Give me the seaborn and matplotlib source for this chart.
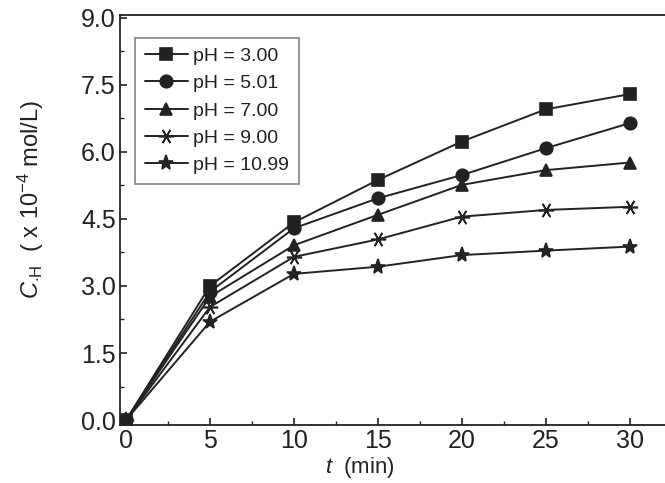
import pandas as pd
import seaborn as sns
import matplotlib.pyplot as plt
from matplotlib.ticker import MultipleLocator

# data
t_min = [0, 5, 10, 15, 20, 25, 30]
ph_labels = ['pH = 3.00', 'pH = 5.01', 'pH = 7.00', 'pH = 9.00', 'pH = 10.99']
c_ph300 = [0.0, 3.00, 4.42, 5.37, 6.23, 6.95, 7.29]
c_ph501 = [0.0, 2.87, 4.29, 4.96, 5.48, 6.08, 6.64]
c_ph700 = [0.0, 2.76, 3.91, 4.59, 5.26, 5.59, 5.76]
c_ph900 = [0.0, 2.53, 3.65, 4.04, 4.55, 4.70, 4.77]
c_ph1099 = [0.0, 2.20, 3.27, 3.43, 3.69, 3.79, 3.88]
y_ticks = [0.0, 1.5, 3.0, 4.5, 6.0, 7.5, 9.0]
x_ticks = [0, 5, 10, 15, 20, 25, 30]

series = [c_ph300, c_ph501, c_ph700, c_ph900, c_ph1099]
rows = []
for lab, vals in zip(ph_labels, series):
    for t, v in zip(t_min, vals):
        rows.append({'t': t, 'C': v, 'pH': lab})
df = pd.DataFrame(rows)

sns.set_style('ticks')
plt.rcParams['font.family'] = ['Liberation Sans', 'DejaVu Sans']
plt.rcParams['mathtext.fontset'] = 'custom'
plt.rcParams['mathtext.rm'] = 'Liberation Sans'
plt.rcParams['mathtext.it'] = 'Liberation Sans:italic'

ink = '#222222'
fig = plt.figure(figsize=(6.65, 4.83), dpi=100)
ax = fig.add_axes([120 / 665, 1 - 425 / 483, 560 / 665, 410 / 483])

markers = ['s', 'o', '^', (6, 2, 90), '*']
sizes = [8, 9, 9, 11, 11]

# one call per series so filled and line-art markers can be mixed
for lab, mk, ms in zip(ph_labels, markers, sizes):
    sns.lineplot(data=df[df['pH'] == lab], x='t', y='C', color=ink,
                 marker=mk, markersize=ms, markeredgewidth=1.2,
                 markeredgecolor=ink, linewidth=1.4, label=lab, ax=ax)

ax.set_xlim(-0.36, 33)
ax.set_ylim(-0.11, 9.06)
ax.set_xticks(x_ticks)
ax.set_yticks(y_ticks)
ax.set_yticklabels([f'{v:.1f}' for v in y_ticks])
ax.xaxis.set_minor_locator(MultipleLocator(2.5))
ax.yaxis.set_minor_locator(MultipleLocator(0.75))
ax.tick_params(which='both', direction='in', color=ink, labelcolor=ink,
               labelsize=18, pad=3)
ax.tick_params(which='major', length=5, width=1.2)
ax.tick_params(which='minor', length=3, width=1.0)
for sp in ax.spines.values():
    sp.set_color(ink)
    sp.set_linewidth(1.3)

ax.set_xlabel(r'$t$  (min)', fontsize=16, color=ink)
ax.xaxis.set_label_coords((360 - 120) / 560, -0.072)
ax.set_ylabel(r'$C_{\cdot\mathrm{H}}$  ( x 10$^{-4}$ mol/L)', fontsize=17, color=ink)
ax.yaxis.set_label_coords(-0.132, 0.55)

handles, labels = ax.get_legend_handles_labels()
leg = ax.legend(handles, labels, loc='upper left',
                bbox_to_anchor=(0.027, 0.945), fontsize=14,
                frameon=True, fancybox=False, edgecolor='#666666',
                handlelength=2.2, handletextpad=0.3, labelspacing=0.5,
                borderpad=0.5, borderaxespad=0)
leg.get_frame().set_linewidth(1.2)
for txt in leg.get_texts():
    txt.set_color(ink)

fig.savefig('out.png', dpi=100)
